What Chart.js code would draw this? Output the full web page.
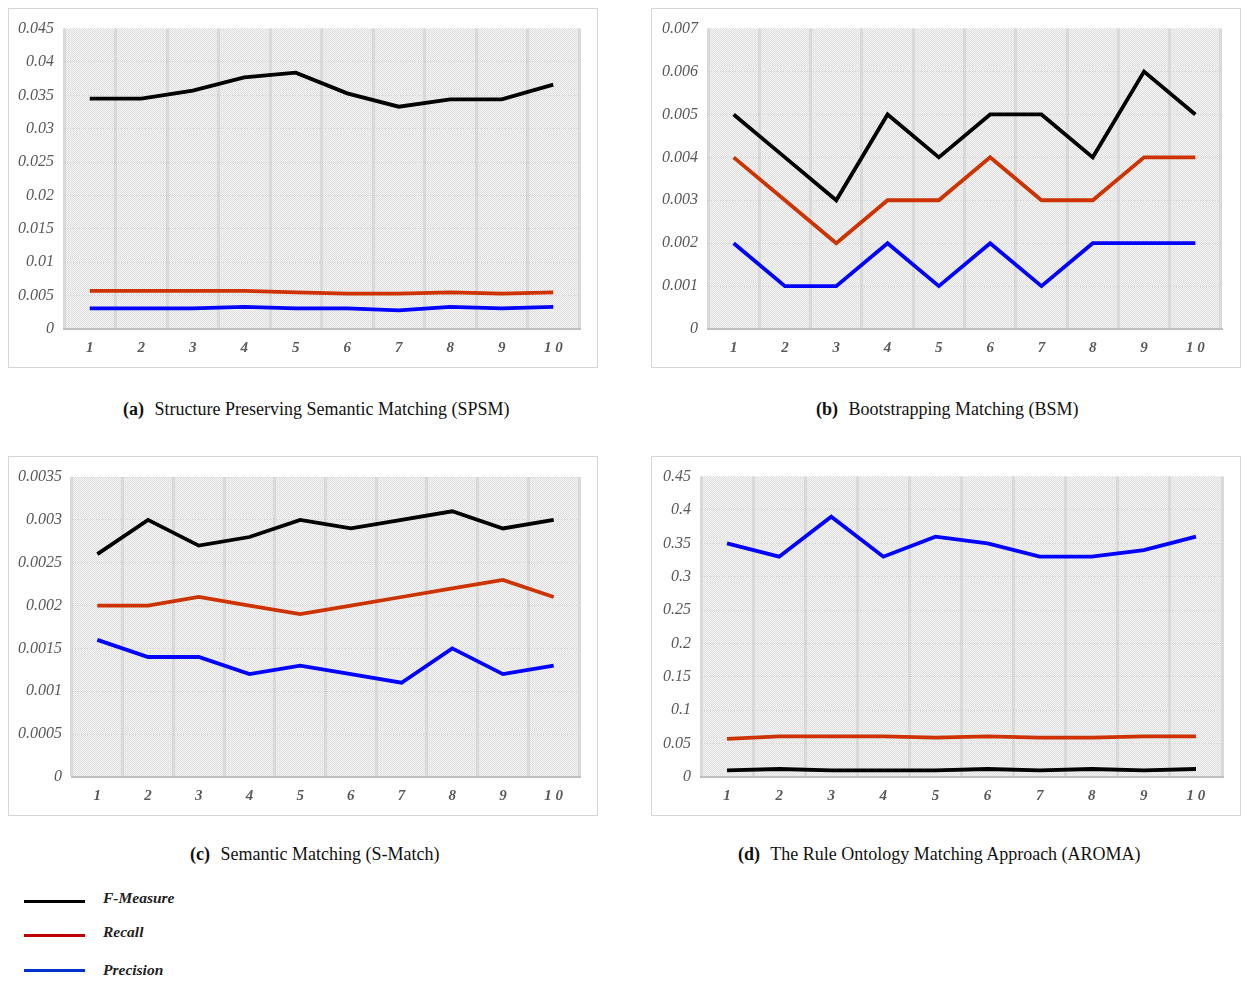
<!DOCTYPE html>
<html>
<head>
<meta charset="utf-8">
<script src="https://cdn.jsdelivr.net/npm/chart.js@4/dist/chart.umd.min.js"></script>
<style>
  html, body { margin: 0; padding: 0; background: #fff; width: 1243px; height: 981px; overflow: hidden; }
  .box { position: absolute; border: 1px solid #d6d6d6; width: 588px; height: 358px; background: #fff; }
  .box canvas { position: absolute; left: 0; top: 0; }
  .cap { position: absolute; font-family: "Liberation Serif", serif; font-size: 18px; color: #111; white-space: nowrap; }
  .cap b { margin-right: 6px; }
  .leg-line { position: absolute; left: 24px; width: 61px; height: 3px; }
  .leg-text { position: absolute; left: 103px; font-family: "Liberation Serif", serif; font-style: italic; font-weight: bold; font-size: 15.5px; color: #222; white-space: nowrap; }
</style>
</head>
<body>
<div class="box" style="left:8px;top:8px;"><canvas id="cA" width="588" height="358"></canvas></div>
<div class="box" style="left:651px;top:8px;"><canvas id="cB" width="588" height="358"></canvas></div>
<div class="box" style="left:8px;top:456px;"><canvas id="cC" width="588" height="358"></canvas></div>
<div class="box" style="left:651px;top:456px;"><canvas id="cD" width="588" height="358"></canvas></div>

<div class="cap" style="left:123px;top:399px;"><b>(a)</b> Structure Preserving Semantic Matching (SPSM)</div>
<div class="cap" style="left:816px;top:399px;"><b>(b)</b> Bootstrapping Matching (BSM)</div>
<div class="cap" style="left:190px;top:844px;"><b>(c)</b> Semantic Matching (S-Match)</div>
<div class="cap" style="left:738px;top:844px;"><b>(d)</b> The Rule Ontology Matching Approach (AROMA)</div>

<div class="leg-line" style="top:900px;background:#000;"></div>
<div class="leg-text" style="top:889px;">F-Measure</div>
<div class="leg-line" style="top:934px;background:#c00000;"></div>
<div class="leg-text" style="top:923px;">Recall</div>
<div class="leg-line" style="top:969px;background:#0033cc;"></div>
<div class="leg-text" style="top:961px;">Precision</div>

<script>
// ---- Data ----
const categories = ['1','2','3','4','5','6','7','8','9','10'];

// (a) SPSM
const spsmF = [0.0345, 0.0345, 0.0357, 0.0377, 0.0384, 0.0353, 0.0333, 0.0344, 0.0344, 0.0366];
const spsmR = [0.0057, 0.0057, 0.0057, 0.0057, 0.0055, 0.0053, 0.0053, 0.0055, 0.0053, 0.0055];
const spsmP = [0.0031, 0.0031, 0.0031, 0.0033, 0.0031, 0.0031, 0.0028, 0.0033, 0.0031, 0.0033];

// (b) BSM
const bsmF = [0.005, 0.004, 0.003, 0.005, 0.004, 0.005, 0.005, 0.004, 0.006, 0.005];
const bsmR = [0.004, 0.003, 0.002, 0.003, 0.003, 0.004, 0.003, 0.003, 0.004, 0.004];
const bsmP = [0.002, 0.001, 0.001, 0.002, 0.001, 0.002, 0.001, 0.002, 0.002, 0.002];

// (c) S-Match
const smatchF = [0.0026, 0.0030, 0.0027, 0.0028, 0.0030, 0.0029, 0.0030, 0.0031, 0.0029, 0.0030];
const smatchR = [0.0020, 0.0020, 0.0021, 0.0020, 0.0019, 0.0020, 0.0021, 0.0022, 0.0023, 0.0021];
const smatchP = [0.0016, 0.0014, 0.0014, 0.0012, 0.0013, 0.0012, 0.0011, 0.0015, 0.0012, 0.0013];

// (d) AROMA
const aromaF = [0.010, 0.012, 0.010, 0.010, 0.010, 0.012, 0.010, 0.012, 0.010, 0.012];
const aromaR = [0.057, 0.061, 0.061, 0.061, 0.059, 0.061, 0.059, 0.059, 0.061, 0.061];
const aromaP = [0.35, 0.33, 0.39, 0.33, 0.36, 0.35, 0.33, 0.33, 0.34, 0.36];

// y-axis ranges (tick labels)
const yMaxA = 0.045, yStepA = 0.005;
const yMaxB = 0.007, yStepB = 0.001;
const yMaxC = 0.0035, yStepC = 0.0005;
const yMaxD = 0.45, yStepD = 0.05;

// ---- Styling ----
const COL_F = '#000000', COL_R = '#cc3300', COL_P = '#0000ff';

function makePattern() {
  const p = document.createElement('canvas');
  p.width = 2; p.height = 2;
  const c = p.getContext('2d');
  c.fillStyle = '#f5f5f5'; c.fillRect(0, 0, 2, 2);
  c.fillStyle = '#dedede';
  c.fillRect(0, 0, 1, 1);
  c.fillRect(1, 1, 1, 1);
  return p;
}
const patternCanvas = makePattern();

const bgPlugin = {
  id: 'dotbg',
  beforeDraw(chart) {
    const { ctx, chartArea: a } = chart;
    ctx.save();
    ctx.fillStyle = ctx.createPattern(patternCanvas, 'repeat');
    ctx.fillRect(a.left, a.top, a.right - a.left, a.bottom - a.top);
    ctx.restore();
  }
};

function fmt(v) { return parseFloat(Number(v).toFixed(6)).toString(); }

function build(id, f, r, p, yMax, yStep, layout) {
  const order = [
    { label: 'F-Measure', data: f, borderColor: COL_F },
    { label: 'Recall', data: r, borderColor: COL_R },
    { label: 'Precision', data: p, borderColor: COL_P }
  ];
  new Chart(document.getElementById(id), {
    type: 'line',
    data: {
      labels: categories,
      datasets: order.map(d => ({
        label: d.label, data: d.data, borderColor: d.borderColor,
        backgroundColor: d.borderColor, borderWidth: 3.8, pointRadius: 0,
        tension: 0, fill: false
      }))
    },
    plugins: [bgPlugin],
    options: {
      responsive: false,
      animation: false,
      events: [],
      layout: { padding: { top: layout.top, right: layout.right, left: 0, bottom: 0 } },
      plugins: { legend: { display: false }, tooltip: { enabled: false } },
      scales: {
        x: {
          type: 'category',
          offset: true,
          grid: { offset: true, color: '#d9d9d9', lineWidth: 3, drawTicks: false },
          border: { display: true, color: '#bfbfbf', width: 2 },
          ticks: {
            padding: 10, color: '#595959', maxRotation: 0, autoSkip: false,
            font: { family: 'Liberation Serif', style: 'italic', weight: 'bold', size: 15 },
            callback: function (v) { return this.getLabelForValue(v).split('').join(' '); }
          },
          afterFit(s) { s.height = 38; }
        },
        y: {
          min: 0, max: yMax,
          grid: { color: 'rgba(170,170,170,0.35)', lineWidth: 1, drawTicks: false },
          border: { display: false, dash: [1, 2] },
          ticks: {
            stepSize: yStep, padding: 10, color: '#595959',
            font: { family: 'Liberation Serif', style: 'italic', size: 16 },
            callback: v => fmt(v)
          },
          afterFit(s) { s.width = layout.left; }
        }
      }
    }
  });
}

build('cA', spsmF, spsmR, spsmP, yMaxA, yStepA, { left: 55, right: 18, top: 18 });
build('cB', bsmF, bsmR, bsmP, yMaxB, yStepB, { left: 56, right: 19, top: 18 });
build('cC', smatchF, smatchR, smatchP, yMaxC, yStepC, { left: 63, right: 18, top: 20 });
build('cD', aromaF, aromaR, aromaP, yMaxD, yStepD, { left: 49, right: 18, top: 19 });
</script>
</body>
</html>
